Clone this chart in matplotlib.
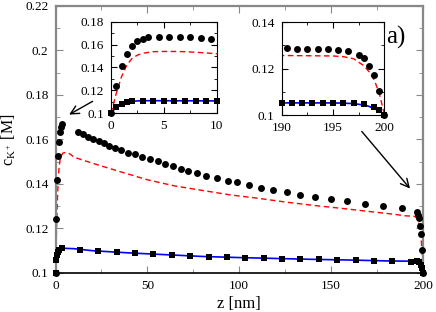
import matplotlib
matplotlib.use('Agg')
import matplotlib.pyplot as plt
from matplotlib.ticker import FixedLocator, MultipleLocator

plt.rcParams['font.family'] = ['Liberation Serif', 'DejaVu Serif']
plt.rcParams['mathtext.fontset'] = 'custom'
plt.rcParams['mathtext.rm'] = 'Liberation Serif'
plt.rcParams['mathtext.it'] = 'Liberation Serif:italic'

# simulation points (circles) in the main panel
circ_z = [0, 0.5, 1, 1.5, 2, 2.5, 3, 3.5, 12.4, 15.2, 17.9, 20.6, 23.5, 26.4, 29.3,
          32.4, 35.8, 39.5, 43.3, 47.1, 51.4, 55.6, 59.6, 63.8, 68.1, 72.3, 76.8,
          81.7, 87.7, 94.0, 98.9, 105.3, 111.8, 118.5, 125.8, 133.1, 141.4, 149.8,
          158.8, 168.3, 178.4, 188.4, 196.5, 197.5, 198, 198.5, 199, 199.5, 200]
circ_c = [0.1, 0.1243, 0.1418, 0.1525, 0.159, 0.1635, 0.1655, 0.1668, 0.1634, 0.1623,
          0.1612, 0.1602, 0.1593, 0.1582, 0.1571, 0.1561, 0.1552, 0.1540, 0.1533,
          0.1522, 0.1512, 0.1503, 0.1490, 0.1479, 0.1468, 0.1459, 0.1449, 0.1436,
          0.1425, 0.1413, 0.1409, 0.1393, 0.1383, 0.1374, 0.1363, 0.1351, 0.1342,
          0.1332, 0.1324, 0.1311, 0.1300, 0.1291, 0.1275, 0.1258, 0.1244, 0.1212,
          0.1172, 0.1103, 0.1]

# squares in the main panel
sq_z = [0, 0.5, 1, 1.5, 2, 3.3, 13.3, 23.3, 33.3, 43.3, 53.3, 63.3, 73.3, 83.3, 93.3,
        103.3, 113.3, 123.3, 133.3, 143.3, 153.3, 163.3, 173.3, 183.3, 193.3,
        197, 198, 199, 199.5, 200]
sq_c = [0.1, 0.1055, 0.108, 0.1095, 0.1103, 0.111, 0.1102, 0.1098, 0.1092, 0.1087,
        0.1084, 0.108, 0.1075, 0.1072, 0.107, 0.1068, 0.1065, 0.1063, 0.1062, 0.106,
        0.1057, 0.1056, 0.1054, 0.1051, 0.105, 0.1052, 0.1049, 0.1036, 0.102, 0.1]

# inset points
in1_circ_z = [0, 0.5, 1, 1.5, 2, 2.5, 3, 3.5, 4.5, 5.5, 6.5, 7.5, 8.5, 9.5]
in1_circ_c = [0.1, 0.1241, 0.1413, 0.1518, 0.1588, 0.1631, 0.1652, 0.1664, 0.1669,
              0.1669, 0.1666, 0.1664, 0.1658, 0.1652]
in1_sq_z = [0, 0.5, 1, 1.5, 2, 3, 4, 5, 6, 7, 8, 9, 10]
in1_sq_c = [0.1, 0.1055, 0.108, 0.1095, 0.1103, 0.1108, 0.111, 0.111, 0.111, 0.111,
            0.111, 0.111, 0.111]
in2_circ_z = [190.5, 191.5, 192.5, 193.5, 194.5, 195.5, 196.5, 197.5, 198, 198.5, 199,
              199.5, 200]
in2_circ_c = [0.1287, 0.1285, 0.1285, 0.1285, 0.1284, 0.1281, 0.1275, 0.1258, 0.1244,
              0.1212, 0.1172, 0.1103, 0.1]
in2_sq_z = [190, 191, 192, 193, 194, 195, 196, 197, 198, 199, 199.5, 200]
in2_sq_c = [0.1052, 0.1052, 0.1052, 0.1052, 0.1052, 0.1052, 0.1052, 0.1051, 0.1049,
            0.1036, 0.102, 0.1]

# theory curves
red_z = [0, 0.5, 1, 1.5, 2, 2.5, 3, 4, 5, 6, 7, 8, 9, 10, 15, 25, 35, 50, 65, 80, 95,
         110, 125, 140, 155, 170, 185, 190, 195, 196, 197, 198, 198.5, 199, 199.5, 200]
red_c = [0.1, 0.1175, 0.132, 0.1422, 0.148, 0.1508, 0.1524, 0.1538, 0.154, 0.154,
         0.1538, 0.1533, 0.1527, 0.152, 0.1506, 0.148, 0.1455, 0.1418, 0.139, 0.137,
         0.135, 0.1335, 0.1318, 0.1303, 0.129, 0.1276, 0.1262, 0.1256, 0.1254, 0.1251,
         0.1242, 0.1212, 0.1186, 0.1151, 0.1093, 0.1]
blue_z = [0, 0.25, 0.5, 0.75, 1, 1.5, 2, 2.5, 3, 4, 10, 20, 40, 60, 80, 100, 120, 140,
          160, 180, 190, 195, 196, 197, 198, 198.5, 199, 199.5, 200]
blue_c = [0.1, 0.1028, 0.105, 0.1068, 0.1082, 0.1098, 0.1105, 0.1108, 0.111, 0.111,
          0.1108, 0.1099, 0.1089, 0.1081, 0.1073, 0.1068, 0.1064, 0.106, 0.1057,
          0.1053, 0.1052, 0.1052, 0.1051, 0.1049, 0.1043, 0.1037, 0.1028, 0.1017, 0.1]

main_xticks = [0, 50, 100, 150, 200]
main_yticks = [0.1, 0.12, 0.14, 0.16, 0.18, 0.2, 0.22]
main_ylabels = ['0.1', '0.12', '0.14', '0.16', '0.18', '0.2', '0.22']
in1_xticks = [0, 5, 10]
in1_yticks = [0.1, 0.12, 0.14, 0.16, 0.18]
in1_ylabels = ['0.1', '0.12', '0.14', '0.16', '0.18']
in2_xticks = [190, 195, 200]
in2_yticks = [0.1, 0.12, 0.14]
in2_ylabels = ['0.1', '0.12', '0.14']


def draw(a, cz, cc, sz, sc, ms_c, ms_s):
    a.plot(red_z, red_c, color='#ff0000', ls=(0, (4, 2.5)), lw=1.0, zorder=2)
    a.plot(blue_z, blue_c, color='#0000ff', ls='-', lw=1.2, zorder=2)
    a.plot(cz, cc, 'o', color='black', ms=ms_c, mew=0, clip_on=False, zorder=3)
    a.plot(sz, sc, 's', color='black', ms=ms_s, mew=0, clip_on=False, zorder=3)


def ticks(a, xt, yt, ylab, xminor, yminor, maj, mnr, col):
    a.xaxis.set_major_locator(FixedLocator(xt))
    a.set_xticklabels([str(v) for v in xt])
    a.yaxis.set_major_locator(FixedLocator(yt))
    a.set_yticklabels(ylab)
    a.xaxis.set_minor_locator(MultipleLocator(xminor))
    a.yaxis.set_minor_locator(MultipleLocator(yminor))
    a.tick_params(which='both', direction='in', top=True, right=True,
                  labelsize=9.5, color=col, pad=5)
    a.tick_params(which='major', length=maj)
    a.tick_params(which='minor', length=mnr)


fig = plt.figure(figsize=(4.36, 3.12), dpi=100)

ax = fig.add_axes([0.1273, 0.126, 0.8429, 0.855])
draw(ax, circ_z, circ_c, sq_z, sq_c, 5.0, 4.0)
ax.set_xlim(0, 200)
ax.set_ylim(0.1, 0.22)
ticks(ax, main_xticks, main_yticks, main_ylabels, 25, 0.01, 5, 3, '#888888')
for s in ['left', 'right', 'top']:
    ax.spines[s].set_color('#888888')
    ax.spines[s].set_linewidth(1.6)
ax.spines['bottom'].set_linewidth(1.2)
ax.set_xlabel('z [nm]', fontsize=12, labelpad=3.5)
ax.set_ylabel(r'c$_{\mathrm{K}^+}$ [M]', fontsize=11.5)
ax.yaxis.set_label_coords(-0.103, 0.5)

ax.annotate('', xy=(6.1, 0.1705), xytext=(21.5, 0.1777),
            arrowprops=dict(arrowstyle='->,head_length=0.6,head_width=0.3', color='black', lw=1))
ax.annotate('', xy=(193.9, 0.1369), xytext=(165.7, 0.1645),
            arrowprops=dict(arrowstyle='->,head_length=0.6,head_width=0.3', color='black', lw=1))
ax.text(180.2, 0.2056, 'a)', fontsize=18, ha='left', va='center')

ins1 = fig.add_axes([0.2546, 0.6369, 0.2424, 0.2936])
draw(ins1, in1_circ_z, in1_circ_c, in1_sq_z, in1_sq_c, 5.0, 4.0)
ins1.set_xlim(0, 10)
ins1.set_ylim(0.1, 0.18)
ticks(ins1, in1_xticks, in1_yticks, in1_ylabels, 2.5, 0.01, 4, 2, 'black')

ins2 = fig.add_axes([0.646, 0.6314, 0.2358, 0.298])
draw(ins2, in2_circ_z, in2_circ_c, in2_sq_z, in2_sq_c, 5.0, 4.0)
ins2.set_xlim(190, 200)
ins2.set_ylim(0.1, 0.14)
ticks(ins2, in2_xticks, in2_yticks, in2_ylabels, 2.5, 0.01, 4, 2, 'black')

plt.savefig('out.png', dpi=100)
plt.close()
